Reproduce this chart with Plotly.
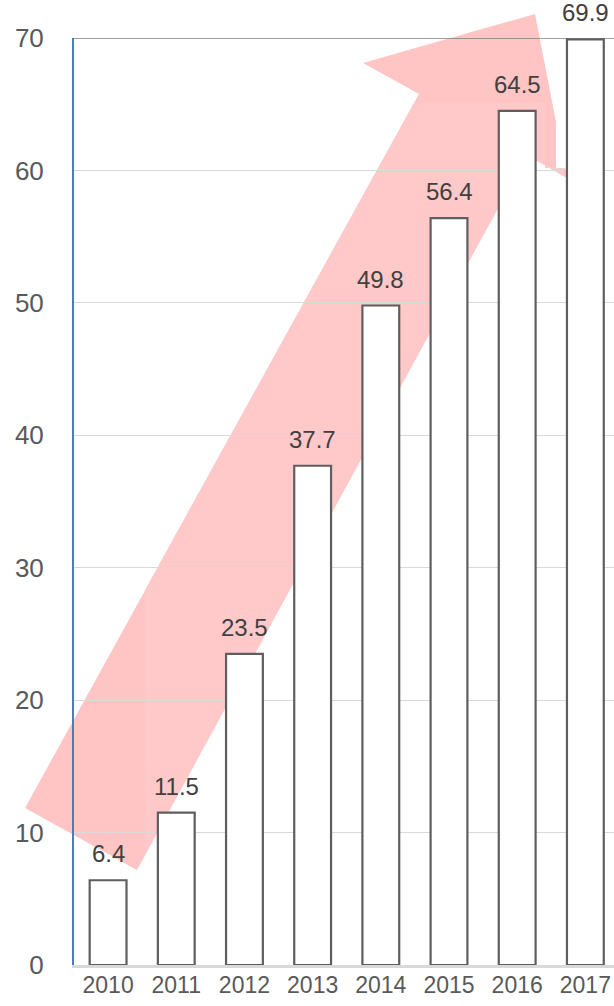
import plotly.graph_objects as go

# Data
years = ["2010", "2011", "2012", "2013", "2014", "2015", "2016", "2017"]
values = [6.4, 11.5, 23.5, 37.7, 49.8, 56.4, 64.5, 69.9]
y_ticks = [0, 10, 20, 30, 40, 50, 60, 70]

# Figure geometry (pixels)
FIG_W, FIG_H = 614, 1006
M_L, M_R, M_T, M_B = 74, 0, 38, 41
PLOT_W = FIG_W - M_L - M_R
PLOT_H = FIG_H - M_T - M_B

FONT = "Liberation Sans, Arial, sans-serif"


def px_to_paper(px, py):
    return (px - M_L) / PLOT_W, (FIG_H - M_B - py) / PLOT_H


def path_from_px(points):
    pts = [px_to_paper(x, y) for x, y in points]
    return "M " + " L ".join(f"{x:.4f},{y:.4f}" for x, y in pts) + " Z"


# Decorative trend arrow drawn behind the bars (pixel outline)
arrow_outline = [(25, 808), (419, 94), (363, 63), (535, 14), (556, 122),
                 (556, 168), (565, 168), (567, 178), (527, 155), (137, 870)]
arrow_core = [(145, 590), (414, 103), (545, 103), (545, 168), (565, 168),
              (567, 178), (527, 155), (145, 855)]

fig = go.Figure()

fig.add_trace(go.Bar(
    x=years,
    y=values,
    width=0.54,
    marker=dict(color="#ffffff", line=dict(color="#5e5e5e", width=2.2)),
    hoverinfo="x+y",
    showlegend=False,
))

# Value labels above each bar (category index positions)
for i, v in enumerate(values):
    fig.add_annotation(
        x=i, y=v, xref="x", yref="y", text=f"{v}", showarrow=False,
        yanchor="bottom", xanchor="center", yshift=11,
        font=dict(family=FONT, size=24, color="#404040"),
    )

shapes = [
    dict(type="path", xref="paper", yref="paper", layer="below",
         path=path_from_px(arrow_outline), fillcolor="#ffc4c4",
         line=dict(width=0)),
    dict(type="path", xref="paper", yref="paper", layer="below",
         path=path_from_px(arrow_core), fillcolor="#ffc9c9",
         line=dict(width=0)),
    # top frame line at the axis maximum
    dict(type="line", xref="paper", yref="y", x0=0, x1=1, y0=70, y1=70,
         layer="below", line=dict(color="#7f7f7f", width=1.6)),
]

fig.update_layout(
    width=FIG_W, height=FIG_H,
    margin=dict(l=M_L, r=M_R, t=M_T, b=M_B, pad=0),
    paper_bgcolor="#ffffff",
    plot_bgcolor="rgba(0,0,0,0)",
    shapes=shapes,
    bargap=0.46,
    xaxis=dict(
        type="category",
        range=[-0.5, 7.42],
        showgrid=False,
        showline=True, linecolor="#d9d9d9", linewidth=3,
        ticks="", ticklabelstandoff=-3,
        tickfont=dict(family=FONT, size=23, color="#595959"),
        fixedrange=True,
    ),
    yaxis=dict(
        range=[0, 70],
        tickvals=y_ticks,
        showgrid=True, gridcolor="#d9d9d9", gridwidth=1,
        zeroline=False,
        showline=True, linecolor="#4a7ebb", linewidth=2,
        ticks="", ticklabelstandoff=23,
        tickfont=dict(family=FONT, size=26, color="#595959"),
        fixedrange=True,
    ),
)

fig.write_html("out.html")
